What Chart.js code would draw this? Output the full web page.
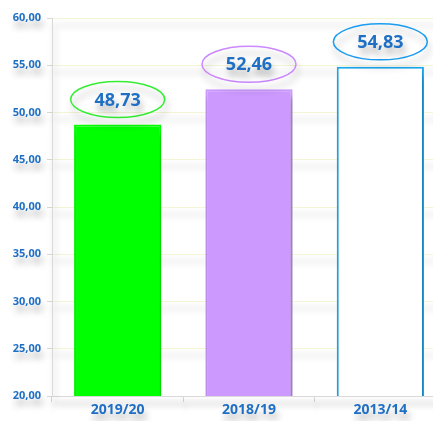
<!DOCTYPE html>
<html>
<head>
<meta charset="utf-8">
<script src="https://cdn.jsdelivr.net/npm/chart.js@4/dist/chart.umd.min.js"></script>
<style>
html,body{margin:0;padding:0;background:#fff;overflow:hidden}
#wrap{width:446px;height:421px}
</style>
</head>
<body>
<div id="wrap"><canvas id="c" width="446" height="421"></canvas></div>
<script>
// ===== data =====
const LABELS=['2019/20','2018/19','2013/14'];
const VALUES=[48.73,52.46,54.83];
const FILLS=['#00ff00','#cc99ff','#ffffff'];
const BORDERS=['#00ff00','#cc99ff','#1aa7ee'];
const RINGS=['#33ee33','#cc88ff','#1a9cf0'];
const BLUE='#1f6fc4';
const fmt=v=>Number(v).toFixed(2).replace('.',',');

// soft drop shadow like the original spreadsheet export
const shadowPlugin={id:'shadow',
  beforeDraw(chart){const c=chart.ctx;c.shadowColor='rgba(0,0,0,0.3)';c.shadowBlur=7;c.shadowOffsetX=2;c.shadowOffsetY=7;},
  afterDraw(chart){const c=chart.ctx;c.shadowColor='transparent';c.shadowBlur=0;c.shadowOffsetX=0;c.shadowOffsetY=0;}
};

// value labels inside ellipses above bars
const ringLabels={id:'ringLabels',
  afterDatasetsDraw(chart){
    const ctx=chart.ctx,meta=chart.getDatasetMeta(0);
    meta.data.forEach((bar,i)=>{
      const cx=bar.x,cy=bar.y-25;
      ctx.save();
      ctx.beginPath();ctx.ellipse(cx,cy,47,18,0,0,Math.PI*2);
      ctx.lineWidth=1.5;ctx.strokeStyle=RINGS[i];ctx.stroke();
      ctx.font='bold 18px "Open Sans", sans-serif';ctx.fillStyle=BLUE;
      ctx.textAlign='center';ctx.textBaseline='middle';
      ctx.fillText(fmt(VALUES[i]),cx,cy+1);
      ctx.restore();
    });
  }
};

new Chart(document.getElementById('c'),{
  type:'bar',
  data:{labels:LABELS,datasets:[{data:VALUES,backgroundColor:FILLS,borderColor:BORDERS,borderWidth:2,barPercentage:0.664,categoryPercentage:1}]},
  options:{responsive:false,animation:false,devicePixelRatio:1,
    layout:{padding:{top:18,right:0,left:0,bottom:0}},
    plugins:{legend:{display:false},tooltip:{enabled:false}},
    scales:{
      x:{grid:{display:true,drawOnChartArea:false,offset:true,color:'#d9d9d9',tickLength:6},border:{color:'#d9d9d9'},
        ticks:{color:BLUE,font:{family:'"Open Sans", sans-serif',size:14,weight:'bold'},padding:0},
        afterFit:s=>{s.height=25;}},
      y:{min:20,max:60,grid:{color:'#f4f4d6',tickLength:5,tickColor:'#d9d9d9'},border:{color:'#d9d9d9'},
        ticks:{stepSize:5,color:BLUE,font:{family:'"Open Sans", sans-serif',size:11,weight:'bold'},padding:6,callback:v=>fmt(v)},
        afterFit:s=>{s.width=52;}}
    }
  },
  plugins:[shadowPlugin,ringLabels]
});
</script>
</body>
</html>
